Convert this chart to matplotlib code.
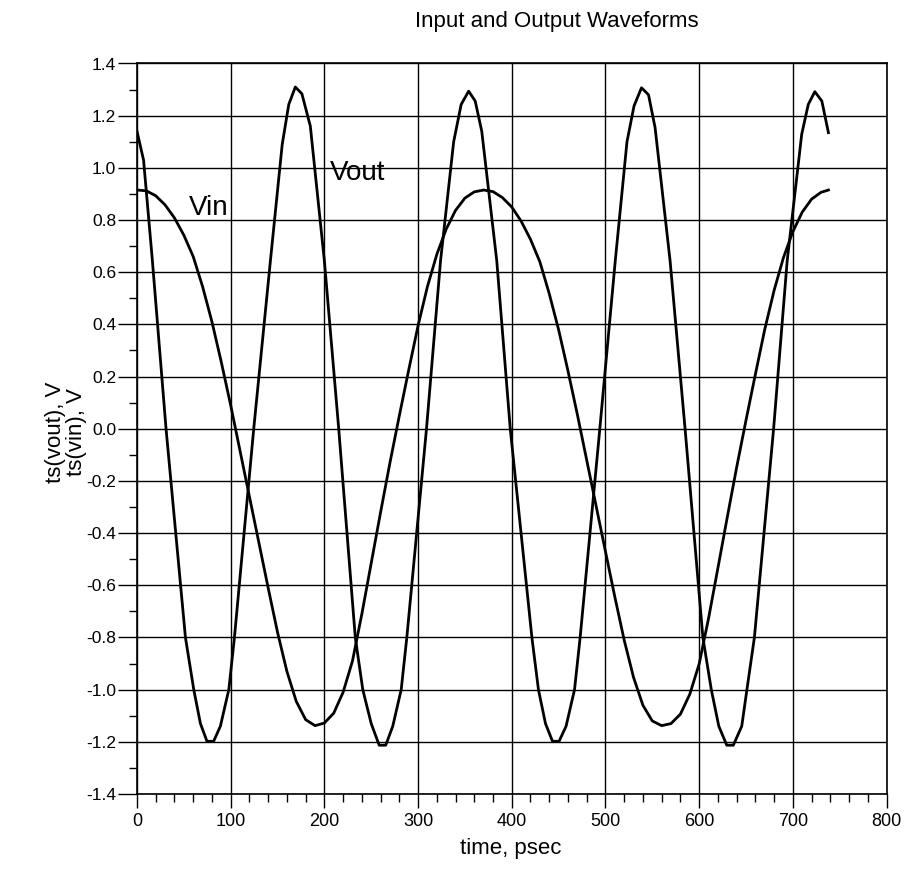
import matplotlib
matplotlib.use("Agg")
import matplotlib.pyplot as plt
from matplotlib.ticker import MultipleLocator

plt.rcParams['font.family'] = ['Liberation Sans', 'DejaVu Sans']

# ---- data ----
vout_t = [0, 7, 16.4, 31, 51.7, 60.6, 67.7, 74.7, 81.8,
          89, 98, 104, 124.6, 142.4, 155, 162, 169,
          176, 185, 200, 215.3, 233, 241, 250, 258.5, 265.5,
          273, 282, 288, 309, 324, 338, 346, 354,
          361, 368, 384, 398.4, 421.5, 428.5, 436, 443.5, 450.5,
          458, 467, 473, 494, 510.5, 523, 530.5, 538.5,
          546, 553, 569, 585, 604, 613, 621, 629.5, 636.5,
          645.5, 651, 659, 679.5, 694, 709.5, 716.5, 723.5,
          731, 738]
vout_v = [1.14, 1.03, 0.645, 0.0, -0.80, -1.00, -1.13, -1.198, -1.198,
          -1.14, -1.00, -0.80, 0.0, 0.644, 1.09, 1.243, 1.31,
          1.284, 1.16, 0.644, 0.0, -0.80, -1.00, -1.13, -1.213, -1.213,
          -1.14, -1.00, -0.80, 0.0, 0.644, 1.10, 1.243, 1.294,
          1.256, 1.14, 0.644, 0.0, -0.80, -1.00, -1.13, -1.198, -1.198,
          -1.14, -1.00, -0.80, 0.0, 0.644, 1.10, 1.237, 1.307,
          1.28, 1.154, 0.644, 0.0, -0.80, -1.00, -1.14, -1.213, -1.213,
          -1.14, -1.00, -0.80, 0.0, 0.644, 1.129, 1.243, 1.292,
          1.256, 1.135]

vin_t = [0, 10, 20, 30, 40, 50, 60, 70, 80, 90,
         100, 110, 120, 130, 140, 150, 160, 170, 180, 190,
         200, 210, 220, 230, 240, 250, 260, 270, 280, 290,
         300, 310, 320, 330, 340, 350, 360, 370, 380, 390,
         400, 410, 420, 430, 440, 450, 460, 470, 480, 490,
         500, 510, 520, 530, 540, 550, 560, 570, 580, 590,
         600, 610, 620, 630, 640, 650, 660, 670, 680, 690,
         700, 710, 720, 730, 738]
vin_v = [0.915, 0.912, 0.893, 0.858, 0.808, 0.742, 0.660, 0.545, 0.410, 0.255,
         0.090, -0.085, -0.260, -0.435, -0.610, -0.780, -0.930, -1.045, -1.115, -1.138,
         -1.128, -1.090, -1.010, -0.890, -0.710, -0.515, -0.320, -0.130, 0.050, 0.225,
         0.395, 0.545, 0.668, 0.765, 0.837, 0.884, 0.908, 0.915, 0.909, 0.886,
         0.850, 0.796, 0.726, 0.640, 0.518, 0.380, 0.222, 0.055, -0.120, -0.295,
         -0.470, -0.644, -0.810, -0.953, -1.060, -1.120, -1.138, -1.130, -1.094, -1.018,
         -0.902, -0.728, -0.535, -0.340, -0.149, 0.032, 0.208, 0.380, 0.530, 0.656,
         0.755, 0.830, 0.880, 0.906, 0.915]

x_ticks = [0, 100, 200, 300, 400, 500, 600, 700, 800]
y_ticks = [-1.4, -1.2, -1.0, -0.8, -0.6, -0.4, -0.2, 0.0, 0.2, 0.4, 0.6, 0.8, 1.0, 1.2, 1.4]

title = "Input and Output Waveforms"
xlabel = "time, psec"
ylabel = "ts(vout), V\nts(vin), V"

# ---- figure ----
W, H = 907, 888
fig = plt.figure(figsize=(W / 100, H / 100), dpi=100)
ax = fig.add_axes([137 / W, 1 - 794 / H, (886.5 - 137) / W, (794 - 63.5) / H])

ax.plot(vout_t, vout_v, color='black', lw=2.0, zorder=3)
ax.plot(vin_t, vin_v, color='black', lw=2.0, zorder=3)

ax.set_xlim(0, 800)
ax.set_ylim(-1.4, 1.4)
ax.set_xticks(x_ticks)
ax.set_yticks(y_ticks)
ax.set_xticklabels([str(v) for v in x_ticks])
ax.set_yticklabels([f"{v:.1f}" for v in y_ticks])
ax.xaxis.set_minor_locator(MultipleLocator(20))
ax.yaxis.set_minor_locator(MultipleLocator(0.1))

ax.grid(True, which='major', color='black', lw=1.0)
ax.set_axisbelow(True)
for s in ax.spines.values():
    s.set_color('black')
    s.set_linewidth(1.2)

ax.tick_params(axis='y', which='major', direction='out', length=14, width=1.0,
               labelsize=12.5, pad=1)
ax.tick_params(axis='y', which='minor', direction='out', length=6, width=1.0)
ax.tick_params(axis='x', which='major', direction='out', length=10, width=1.0,
               labelsize=13, pad=4)
ax.tick_params(axis='x', which='minor', direction='out', length=6, width=1.0)

# curve labels placed in data coordinates
ax.text(77, 0.845, "Vin", fontsize=20, ha='center', va='center')
ax.text(235, 0.98, "Vout", fontsize=20, ha='center', va='center')

fig.text(557 / W, 1 - 22 / H, title, fontsize=16, ha='center', va='center')
fig.text(511 / W, 1 - 848 / H, xlabel, fontsize=16, ha='center', va='center')
fig.text(66 / W, 1 - 432 / H, ylabel, fontsize=16, ha='center', va='center',
         rotation=90, multialignment='center', linespacing=0.95)

fig.savefig("out.png", dpi=100)
